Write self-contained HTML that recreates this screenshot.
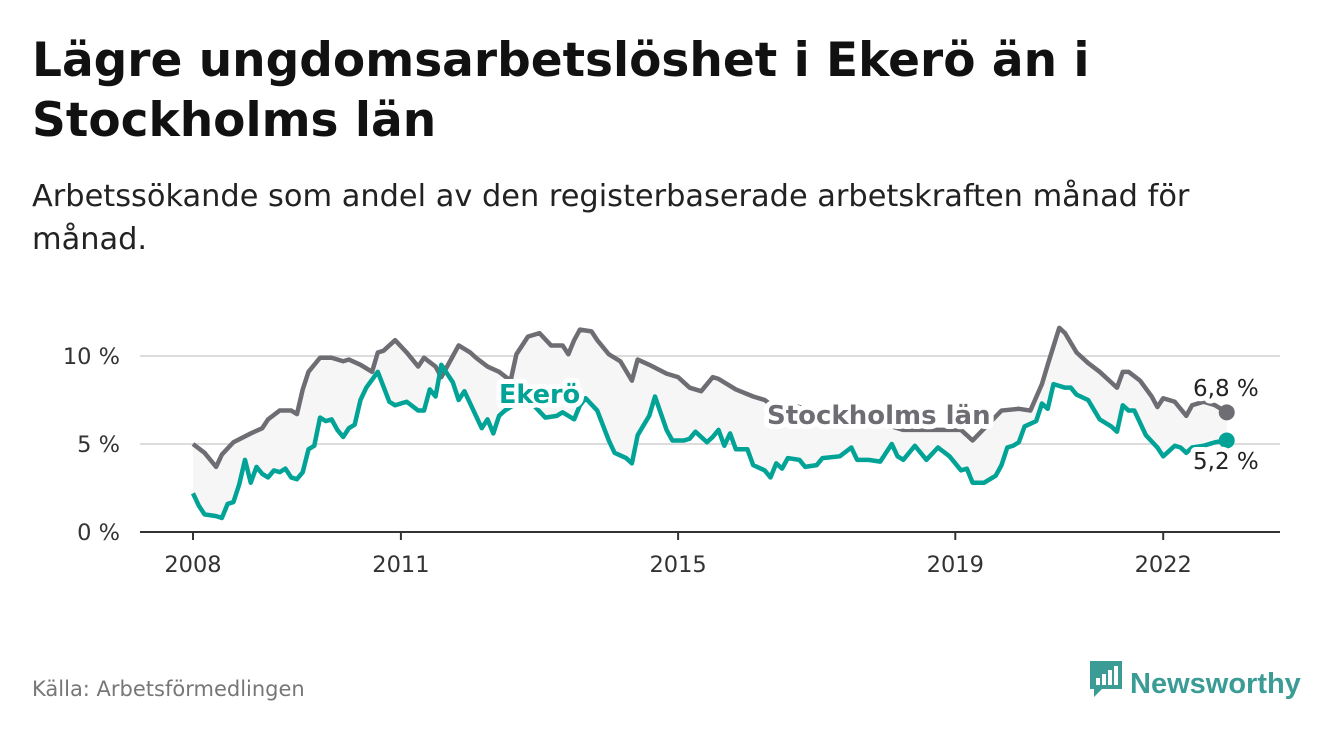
<!DOCTYPE html>
<html><head><meta charset="utf-8"><style>
body{margin:0;width:1340px;height:734px;background:#fff;font-family:"DejaVu Sans","Liberation Sans",sans-serif;overflow:hidden;position:relative}
h1{position:absolute;left:32px;top:31px;margin:0;font-size:47px;line-height:60px;font-weight:bold;color:#111;width:1300px;white-space:nowrap}
.sub{position:absolute;left:32px;top:175px;font-size:30.4px;line-height:43px;color:#222;width:1300px;white-space:nowrap}
.src{position:absolute;left:32px;top:677px;font-size:21px;color:#777}
.logo{position:absolute;left:1088px;top:659px;font-size:29px;font-weight:bold;color:#3a9c94;font-family:"Liberation Sans",sans-serif}
</style></head><body>
<h1>Lägre ungdomsarbetslöshet i Ekerö än i<br>Stockholms län</h1>
<div class="sub">Arbetssökande som andel av den registerbaserade arbetskraften månad för<br>månad.</div>
<svg id="chart" width="1340" height="734" style="position:absolute;left:0;top:0"></svg>
<div class="src">Källa: Arbetsförmedlingen</div>
<div class="logo"><svg width="36" height="40" viewBox="0 0 36 40" style="vertical-align:-6px;margin-right:6px"><path d="M2 2h32v28H14l-8 8v-8H2z" fill="#3a9c94"/><rect x="8" y="19" width="4" height="7" fill="#fff"/><rect x="14" y="15" width="4" height="11" fill="#fff"/><rect x="20" y="11" width="4" height="15" fill="#fff"/><rect x="26" y="7" width="4" height="19" fill="#fff"/></svg>Newsworthy</div>
<script>
const stockMonths=[0,2,4,5,7,10,12,13,15,17,18,19,20,22,24,26,27,29,31,32,33,35,37,39,40,42,43,45,46,48,49,51,53,55,56,58,60,62,64,65,66,67,69,70,72,74,76,77,79,82,84,86,88,90,91,94,97,99,101,103,110,117,123,133,135,140,143,145,147,148,150,151,153,155,157,159,160,161,162,164,166,167,168,170,172,173,175,177,179];
const stockValues=[5.0,4.5,3.7,4.4,5.1,5.6,5.9,6.4,6.9,6.9,6.7,8.1,9.1,9.9,9.9,9.7,9.8,9.5,9.1,10.2,10.3,10.9,10.2,9.4,9.9,9.4,8.8,10.0,10.6,10.2,9.9,9.4,9.1,8.6,10.1,11.1,11.3,10.6,10.6,10.1,10.9,11.5,11.4,10.9,10.1,9.7,8.6,9.8,9.5,9.0,8.8,8.2,8.0,8.8,8.7,8.1,7.7,7.5,7.0,7.3,6.6,6.4,5.8,5.8,5.2,6.9,7.0,6.9,8.4,9.5,11.6,11.3,10.2,9.6,9.1,8.5,8.2,9.1,9.1,8.6,7.7,7.1,7.6,7.4,6.6,7.2,7.4,7.2,6.8];
const ekeMonths=[0,1,2,4,5,6,7,8,9,10,11,12,13,14,15,16,17,18,19,20,21,22,23,24,25,26,27,28,29,30,32,34,35,37,39,40,41,42,43,45,46,47,50,51,52,53,54,57,59,61,63,64,66,67,68,70,72,73,75,76,77,79,80,82,83,85,86,87,89,90,91,92,93,94,96,97,99,100,101,102,103,105,106,108,109,112,114,115,117,119,121,122,123,125,127,129,131,133,134,135,137,139,140,141,142,143,144,146,147,148,149,151,152,153,155,157,159,160,161,162,163,165,167,168,170,171,172,173,175,177,179];
const ekeValues=[2.2,1.5,1.0,0.9,0.8,1.6,1.7,2.7,4.1,2.8,3.7,3.3,3.1,3.5,3.4,3.6,3.1,3.0,3.4,4.7,4.9,6.5,6.3,6.4,5.8,5.4,5.9,6.1,7.5,8.2,9.1,7.4,7.2,7.4,6.9,6.9,8.1,7.7,9.5,8.5,7.5,8.0,5.9,6.4,5.6,6.6,6.9,7.5,7.2,6.5,6.6,6.8,6.4,7.2,7.6,6.9,5.2,4.5,4.2,3.9,5.5,6.6,7.7,5.8,5.2,5.2,5.3,5.7,5.1,5.4,5.8,4.9,5.6,4.7,4.7,3.8,3.5,3.1,3.9,3.6,4.2,4.1,3.7,3.8,4.2,4.3,4.8,4.1,4.1,4.0,5.0,4.3,4.1,4.9,4.1,4.8,4.3,3.5,3.6,2.8,2.8,3.2,3.8,4.8,4.9,5.1,6.0,6.3,7.3,7.0,8.4,8.2,8.2,7.8,7.5,6.4,6.0,5.7,7.2,6.9,6.9,5.5,4.8,4.3,4.9,4.8,4.5,4.8,4.9,5.1,5.2];
const yTicks=[0,5,10];
const yTickLabels=["0 %","5 %","10 %"];
const xTickYears=[2008,2011,2015,2019,2022];
const NS="http://www.w3.org/2000/svg";
const svg=document.getElementById('chart');
const X=m=>193+m*(69.3/12);
const Xy=y=>193+(y-2008)*69.3;
const Y=v=>532-v*17.6;
function el(t,a){const e=document.createElementNS(NS,t);for(const k in a)e.setAttribute(k,a[k]);svg.appendChild(e);return e;}
yTicks.forEach((t,i)=>{
 if(t>0){const g=el('line',{x1:140,x2:1280,y1:Y(t),y2:Y(t),stroke:'#dcdcdc','stroke-width':2});
 
 }
 const l=el('text',{x:120,y:Y(t)+8,'text-anchor':'end','font-size':22.5,fill:'#333'});l.textContent=yTickLabels[i];
 
 
});
const ax=el('line',{x1:140,x2:1280,y1:532,y2:532,stroke:'#333','stroke-width':2});


xTickYears.forEach(yr=>{
 const tk=el('line',{x1:Xy(yr),x2:Xy(yr),y1:532,y2:540,stroke:'#333','stroke-width':2});
 
 
 const l=el('text',{x:Xy(yr),y:572,'text-anchor':'middle','font-size':22.5,fill:'#333'});l.textContent=yr;
 
 
});
const sp=stockMonths.map((m,i)=>X(m)+','+Y(stockValues[i]));
const ep=ekeMonths.map((m,i)=>X(m)+','+Y(ekeValues[i]));
const area=el('polygon',{points:sp.concat(ep.slice().reverse()).join(' '),fill:'#f6f6f6'});


const ls=el('polyline',{points:sp.join(' '),fill:'none',stroke:'#6e6d73','stroke-width':4.5,'stroke-linejoin':'round'});


const le=el('polyline',{points:ep.join(' '),fill:'none',stroke:'#00a396','stroke-width':4.5,'stroke-linejoin':'round'});


const lastS=stockValues.length-1,lastE=ekeValues.length-1;
const d1=el('circle',{cx:X(stockMonths[lastS]),cy:Y(stockValues[lastS]),r:8,fill:'#6e6d73'});


const d2=el('circle',{cx:X(ekeMonths[lastE]),cy:Y(ekeValues[lastE]),r:8,fill:'#00a396'});


function lab(txt,x,y,fill,size,bold,name){
 const t=el('text',{x:x,y:y,'font-size':size,'font-weight':bold?'bold':'normal',fill:fill});
 t.setAttribute('stroke','#fff');t.setAttribute('stroke-width',10);t.setAttribute('paint-order','stroke');t.setAttribute('stroke-linejoin','round');
 t.textContent=txt;
 
 
}
lab('Ekerö',499,403,'#00a396',25.5,true,'ekero-label');
lab('Stockholms län',767,424,'#6e6d73',26,true,'stockholm-label');
lab(String(stockValues[lastS]).replace('.',',')+' %',1193,396,'#222',23,false,'stockholm-value-label');
lab(String(ekeValues[lastE]).replace('.',',')+' %',1193,469,'#222',23,false,'ekero-value-label');
</script>
</body></html>
